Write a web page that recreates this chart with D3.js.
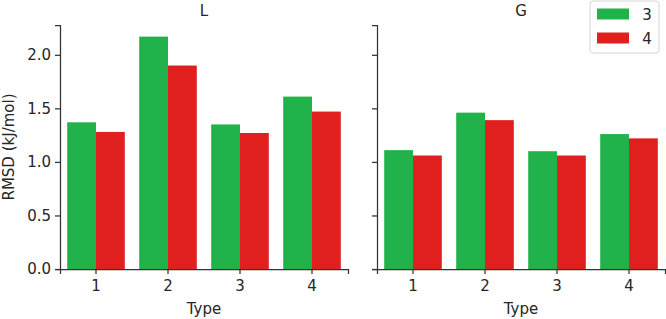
<!DOCTYPE html>
<html>
<head>
<meta charset="utf-8">
<script src="https://cdn.jsdelivr.net/npm/d3@7"></script>
<style>
  body { margin: 0; background: #fff; }
  text { font-family: "DejaVu Sans", sans-serif; fill: #262626; }
</style>
</head>
<body>
<div id="chart"></div>
<script>
// Data
const types = ["1", "2", "3", "4"];
const seriesNames = ["3", "4"];
const panels = ["L", "G"];
const valuesL3 = [1.37, 2.17, 1.35, 1.61];
const valuesL4 = [1.28, 1.90, 1.27, 1.47];
const valuesG3 = [1.11, 1.46, 1.10, 1.26];
const valuesG4 = [1.06, 1.39, 1.06, 1.22];
const yTicks = [0.0, 0.5, 1.0, 1.5, 2.0];

const colors = { "3": "#22b24c", "4": "#e0201f" };
const fontSize = "15px";

const panelData = {
    L: { "3": valuesL3, "4": valuesL4 },
    G: { "3": valuesG3, "4": valuesG4 }
};

const width = 666, height = 319;
const panelWidth = 288;
const panelLeft = { L: 60, G: 377 };
const plotTop = 25, plotBottom = 269;

const svg = d3.select("#chart")
    .append("svg")
    .attr("width", width)
    .attr("height", height);

// shared y scale
const y = d3.scaleLinear()
    .domain([0, 2.2785])
    .range([plotBottom, plotTop]);

panels.forEach((p, pi) => {
    const g = svg.append("g")
        .attr("transform", `translate(${panelLeft[p]},0)`);

    const x = d3.scaleBand()
        .domain(types)
        .range([0, panelWidth])
        .paddingInner(0.2)
        .paddingOuter(0.1);

    const xSub = d3.scaleBand()
        .domain(seriesNames)
        .range([0, x.bandwidth()]);

    // bars
    seriesNames.forEach(s => {
        g.selectAll(`.bar-${s}`)
            .data(types.map((t, i) => ({ t, v: panelData[p][s][i] })))
            .join("rect")
            .attr("class", `bar-${s}`)
            .attr("x", d => x(d.t) + xSub(s))
            .attr("y", d => y(d.v))
            .attr("width", xSub.bandwidth())
            .attr("height", d => y(0) - y(d.v))
            .attr("fill", colors[s]);
    });

    // x axis
    const xAxis = g.append("g")
        .attr("transform", `translate(0,${plotBottom})`)
        .call(d3.axisBottom(x).tickSizeOuter(0).tickSize(5).tickPadding(6));
    xAxis.select(".domain").attr("stroke", "#333").attr("stroke-width", 1.25);
    xAxis.selectAll(".tick line").attr("stroke", "#333").attr("stroke-width", 1.25);
    xAxis.selectAll("text").style("font-size", fontSize).attr("fill", "#262626");

    // y axis
    const yAxis = g.append("g")
        .call(d3.axisLeft(y).tickValues(yTicks).tickFormat(pi === 0 ? d3.format(".1f") : "")
            .tickSizeOuter(0).tickSize(5).tickPadding(4));
    yAxis.select(".domain").attr("stroke", "#333").attr("stroke-width", 1.25);
    yAxis.selectAll(".tick line").attr("stroke", "#333").attr("stroke-width", 1.25);
    yAxis.selectAll("text").style("font-size", fontSize).attr("fill", "#262626");

    // panel title
    g.append("text")
        .attr("x", panelWidth / 2)
        .attr("y", 16)
        .attr("text-anchor", "middle")
        .style("font-size", fontSize)
        .text(p);

    // x label
    g.append("text")
        .attr("x", panelWidth / 2)
        .attr("y", 314)
        .attr("text-anchor", "middle")
        .style("font-size", fontSize)
        .text("Type");
});

// y label
svg.append("text")
    .attr("transform", "rotate(-90)")
    .attr("x", -(plotTop + plotBottom) / 2)
    .attr("y", 14)
    .attr("text-anchor", "middle")
    .style("font-size", fontSize)
    .text("RMSD (kJ/mol)");

// legend
const legend = svg.append("g").attr("transform", "translate(590,1)");
legend.append("rect")
    .attr("width", 69)
    .attr("height", 52)
    .attr("rx", 3)
    .attr("fill", "#fff")
    .attr("fill-opacity", 0.8)
    .attr("stroke", "#d5d5d5");
seriesNames.forEach((s, i) => {
    legend.append("rect")
        .attr("x", 7)
        .attr("y", 7.5 + i * 24)
        .attr("width", 32)
        .attr("height", 11)
        .attr("fill", colors[s]);
    legend.append("text")
        .attr("x", 57)
        .attr("y", 19 + i * 24)
        .attr("text-anchor", "middle")
        .style("font-size", fontSize)
        .text(s);
});
</script>
</body>
</html>
